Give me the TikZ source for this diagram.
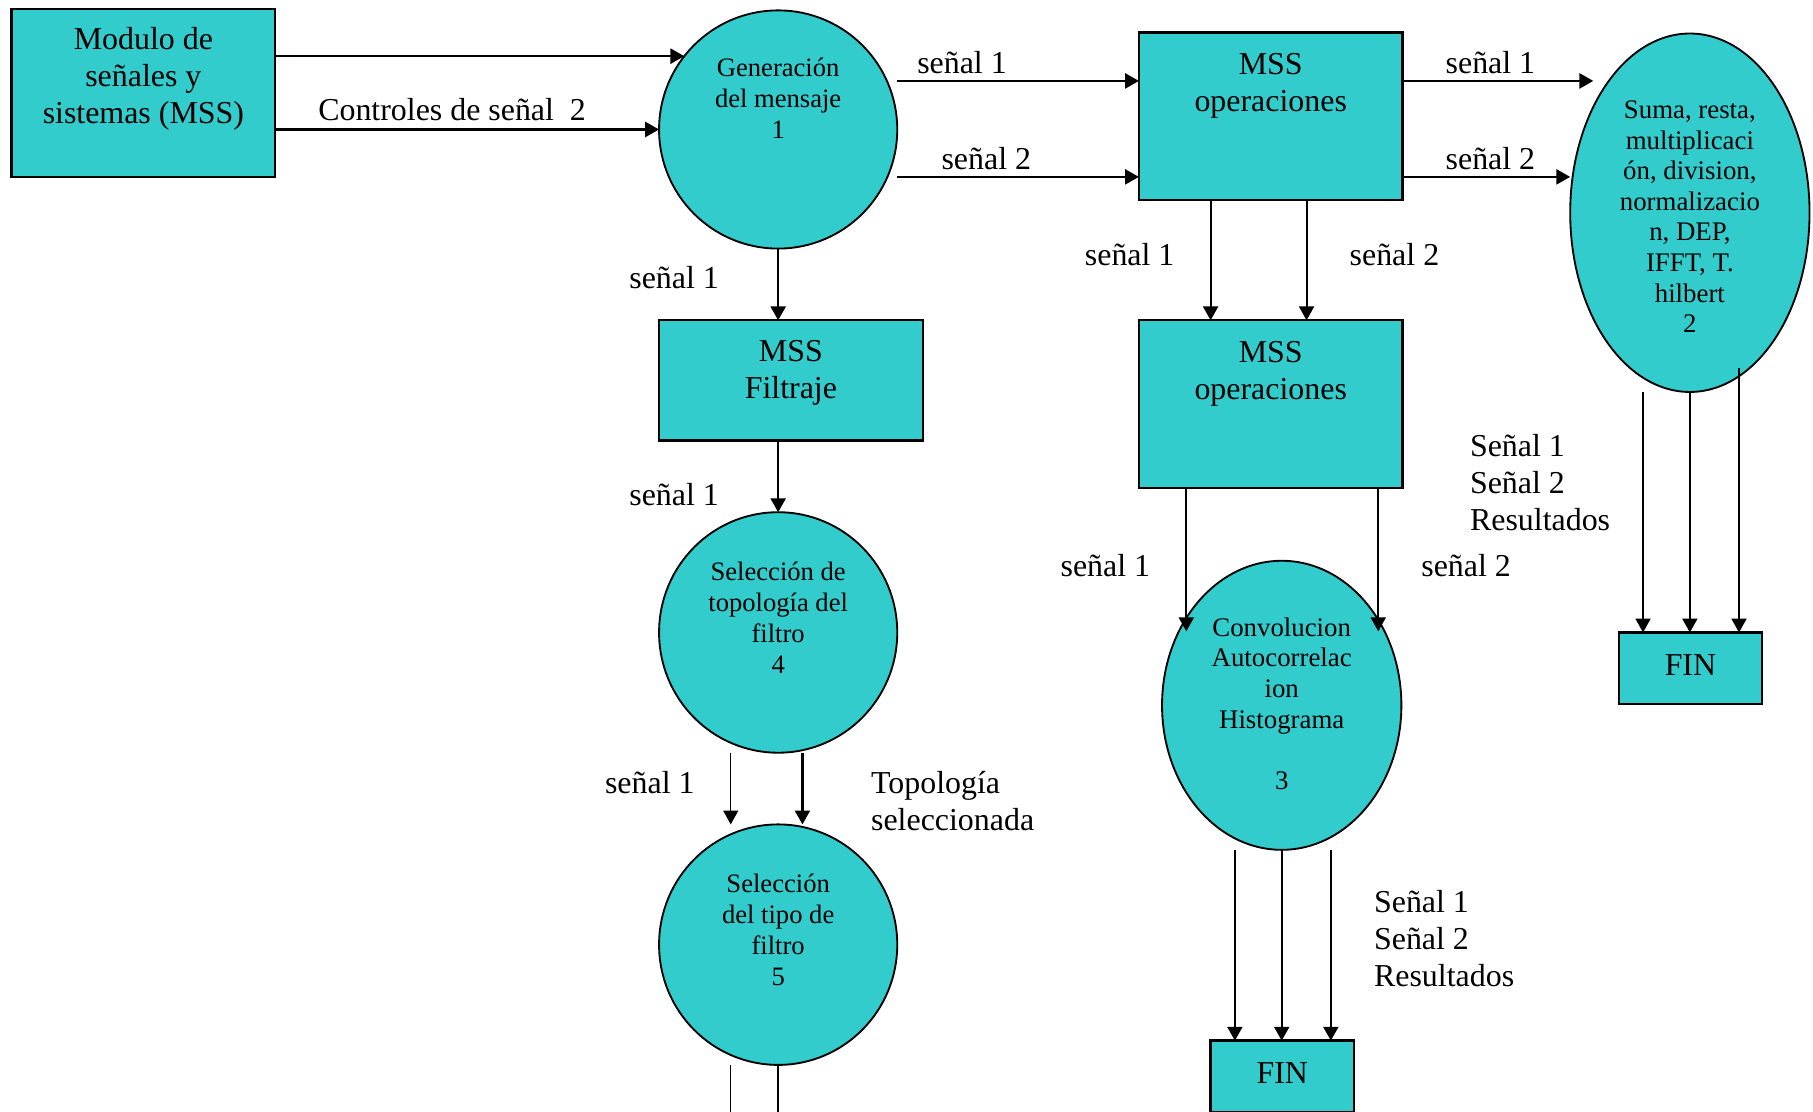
\documentclass[tikz,border=0pt]{standalone}
\usepackage{fontspec}
\setmainfont{Liberation Serif}
\usetikzlibrary{arrows.meta,shapes.geometric,calc}
\definecolor{cyanfill}{HTML}{33CCCC}
\begin{document}
\begin{tikzpicture}[x=0.5pt,y=-0.5pt,
  box/.style={draw=black,line width=1pt,fill=cyanfill,inner sep=0pt,outer sep=0pt,
              minimum width=114pt,minimum height=72.5pt},
  bubble/.style={ellipse,draw=black,line width=0.8pt,fill=cyanfill,inner sep=0pt,outer sep=0pt},
  big/.style={font=\fontsize{13.8}{16}\selectfont,align=center,inner sep=0pt},
  small/.style={font=\fontsize{11.5}{13.4}\selectfont,align=center,inner sep=0pt},
  lbl/.style={font=\fontsize{13.8}{16}\selectfont,inner sep=0pt},
  tip/.style={-{Triangle[length=6pt,width=6.5pt]}},
  flow/.style={line width=1pt,tip},
  midflow/.style={line width=0.8pt,tip},
  thinflow/.style={line width=0.6pt,tip},
]
\fill[white] (0,0) rectangle (1568,961);
\useasboundingbox (0,0) rectangle (1568,961);

% processes and stores
\node[box] (A) at (124,80.5) {};
\node[bubble,minimum width=103pt,minimum height=103pt] (G1) at (673,112) {};
\node[box] (B) at (1099,100.5) {};
\node[bubble,minimum width=103.5pt,minimum height=155pt] (C) at (1461.5,184) {};
\node[box] (D) at (1099,349.5) {};
\node[bubble,minimum width=103.5pt,minimum height=125pt] (E) at (1108.5,610) {};
\node[box,minimum height=52pt] (Filt) at (684,329) {};
\node[bubble,minimum width=103pt,minimum height=104pt] (F4) at (673,547) {};
\node[bubble,minimum width=103pt,minimum height=104pt] (F5) at (673,817) {};
\node[box,minimum width=62pt,minimum height=31pt] (FIN1) at (1462,578) {};
\node[box,minimum width=62pt,minimum height=31pt] (FIN2) at (1109,931) {};

% texts inside the shapes
\node[big] (At) at (124,68) {Modulo de\\señales y\\sistemas (MSS)};
\node[small] (G1t) at (673,85) {Generación\\del mensaje\\1};
\node[big] (Bt) at (1099,74) {MSS\\operaciones};
\node[small,font=\fontsize{11.6}{13.25}\selectfont] (Ct) at (1461.5,187.5)
  {Suma, resta,\\multiplicaci\\ón, division,\\normalizacio\\n, DEP,\\IFFT, T.\\hilbert\\2};
\node[big] (Dt) at (1099,323) {MSS\\operaciones};
\node[small,font=\fontsize{11.6}{13.25}\selectfont] (Et) at (1108.5,608.5)
  {Convolucion\\Autocorrelac\\ion\\Histograma\\[13.25pt]3};
\node[big] (Filtt) at (684,322.5) {MSS\\Filtraje};
\node[small] (F4t) at (673,534) {Selección de\\topología del\\filtro\\4};
\node[small] (F5t) at (673,804) {Selección\\del tipo de\\filtro\\5};
\node[big] (FIN1t) at (1462,575) {FIN};
\node[big] (FIN2t) at (1109,928) {FIN};

% helper points
\coordinate (Bin1) at ([yshift=-21pt]B.north west);
\coordinate (Bin2) at ([yshift=10pt]B.south west);
\coordinate (Ein) at ([yshift=-30.5pt]E.north);
\coordinate (cut) at (673,975);

% flows
\draw[flow] (A.east |- G1.142.3) -- (G1.142.3);
\draw[flow] (A.east |- G1.west) -- (G1.west);
\draw[flow] (G1.east |- Bin1) -- (Bin1);
\draw[flow] (G1.east |- Bin2) -- (Bin2);
\draw[flow] (B.east |- Bin1) -- ([xshift=10pt]C.west |- Bin1);
\draw[flow] (B.east |- Bin2) -- (C.west |- Bin2);

\draw[midflow] ([xshift=-26pt]B.south) -- ([xshift=-26pt]B.south |- D.north);
\draw[midflow] ([xshift=15.5pt]B.south) -- ([xshift=15.5pt]B.south |- D.north);
\draw[midflow] ([xshift=-36.5pt]D.south) -- ([xshift=-36.5pt]D.south |- Ein);
\draw[midflow] ([xshift=46.5pt]D.south) -- ([xshift=46.5pt]D.south |- Ein);

\draw[flow] ([xshift=-20.25pt]E.south) -- ([xshift=-20.25pt]E.south |- FIN2.north);
\draw[flow] (E.south) -- (E.south |- FIN2.north);
\draw[flow] ([xshift=21.25pt]E.south) -- ([xshift=21.25pt]E.south |- FIN2.north);

\draw[midflow] ([xshift=-20.25pt]C.south) -- ([xshift=-20.25pt]C.south |- FIN1.north);
\draw[midflow] (C.south) -- (C.south |- FIN1.north);
\draw[midflow] ([xshift=21.25pt,yshift=10.5pt]C.south) -- ([xshift=21.25pt]C.south |- FIN1.north);

\draw[flow] (G1.south) -- (G1.south |- Filt.north);
\draw[flow] (Filt.south -| F4.north) -- (F4.north);
\draw[thinflow] ([xshift=-20.5pt]F4.south) -- ([xshift=-20.5pt]F4.south |- F5.north);
\draw[flow] ([xshift=10.5pt]F4.south) -- ([xshift=10.5pt]F4.south |- F5.north);
\draw[line width=0.6pt] ([xshift=-20.5pt]F5.south) -- ([xshift=-20.5pt]F5.south |- cut);
\draw[line width=1pt] (F5.south) -- (cut);

% flow labels
\node[lbl] (l1) at (391,95) {Controles de señal\ \ 2};
\node[lbl] (l2) at (832,54) {señal 1};
\node[lbl] (l3) at (853,137) {señal 2};
\node[lbl] (l4) at (1289,54) {señal 1};
\node[lbl] (l5) at (1289,137) {señal 2};
\node[lbl] (l6) at (977,220) {señal 1};
\node[lbl] (l7) at (1206,220) {señal 2};
\node[lbl] (l8) at (956,489) {señal 1};
\node[lbl] (l9) at (1268,489) {señal 2};
\node[lbl,align=left,anchor=west] (r1) at (1271,417) {Señal 1\\Señal 2\\Resultados};
\node[lbl,align=left,anchor=west] (r2) at (1188,812) {Señal 1\\Señal 2\\Resultados};
\node[lbl] (l10) at (583,240) {señal 1};
\node[lbl] (l11) at (583,428) {señal 1};
\node[lbl] (l12) at (562,677) {señal 1};
\node[lbl,align=left,anchor=west] (l13) at (753,693) {Topología\\seleccionada};
\end{tikzpicture}
\end{document}
